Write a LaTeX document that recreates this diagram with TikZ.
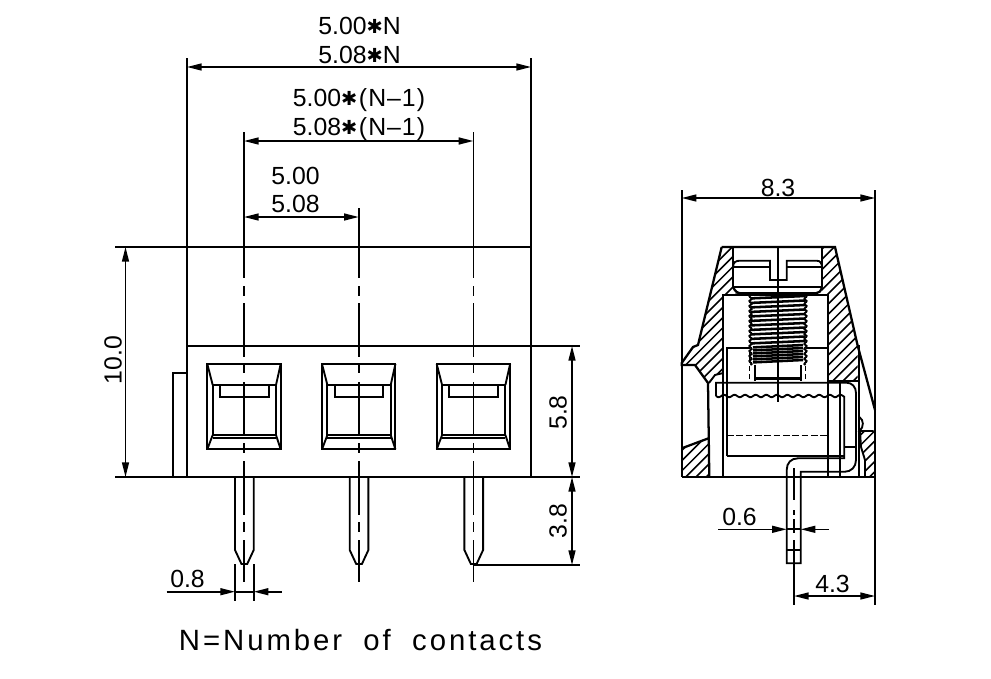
\documentclass[tikz,border=0pt]{standalone}
\usepackage{fontspec}
\setmainfont{Liberation Sans}
\newfontfamily\symfont{DejaVu Sans}
\newfontfamily\spacedfont[LetterSpace=10]{Liberation Sans}
\usetikzlibrary{arrows.meta}
\newcommand{\starglyph}{{\symfont\fontsize{14.5}{16}\selectfont\raisebox{0.5pt}{✱}}}
\newcommand{\nminus}{\kern1.2pt(\kern1pt N\kern0.6pt–\kern0.6pt 1\kern1pt)}
\tikzset{
  obj/.style={line width=1.7pt,line join=miter},
  med/.style={line width=1.4pt},
  extl/.style={line width=1.3pt},
  centre/.style={line width=1.3pt},
  dimline/.style={line width=1.2pt,{Triangle[length=11pt,width=5.2pt]}-{Triangle[length=11pt,width=5.2pt]}},
  dimin/.style={line width=1.2pt,-{Triangle[length=11pt,width=5.2pt]}},
  hatchl/.style={line width=1.15pt},
  lbl/.style={inner sep=0pt,font=\fontsize{18.6}{20}\selectfont},
  lblr/.style={lbl,rotate=90},
}
\newcommand{\hatchfill}[3]{% polygon, from, to
  \begin{scope}
    \clip #1;
    \foreach \hc in {#2,...,#3}{
      \pgfmathsetmacro{\cc}{\hc*10.2}
      \draw[hatchl] (\cc-240,240) -- (\cc-500,500);
    }
  \end{scope}
}
\begin{document}
\begin{tikzpicture}[x=0.75pt,y=-0.75pt]
\useasboundingbox (0,0) rectangle (991,678);
% ---------- FRONT VIEW ----------
\draw[obj] (187,477) -- (187,346) -- (580,346);
\draw[obj] (115,477) -- (580,477);
\draw[extl] (115,247) -- (531,247);
\draw[obj] (531,346) -- (531,477);
\draw[obj] (172.7,477) -- (172.7,373) -- (187,373);
\draw[extl] (187,58) -- (187,346);
\draw[extl] (531,58) -- (531,346);
% cavities, pins, centre lines
\foreach \cx/\ctop in {244/132,358.7/208,473.4/132}{
  \begin{scope}[shift={(\cx,0)}]
    \draw[med] (-36.7,364) rectangle (36.7,449.3);
    \draw[med] (-31.3,385) rectangle (32,435);
    \draw[med] (-31.3,438.3) -- (32,438.3);
    \draw[med] (-24,385) -- (-24,396.7) -- (24.7,396.7) -- (24.7,385);
    \draw[med] (-36.7,364) -- (-31.3,385) (36.7,364) -- (32,385);
    \draw[med] (-36.7,449.3) -- (-31.3,435) (36.7,449.3) -- (32,435);
    \draw[med] (-9,477) -- (-9,550) -- (-2.5,564) -- (3.2,564) -- (9.7,550) -- (9.7,477);
    \draw[centre] (0,\ctop) -- (0,278) (0,286) -- (0,296) (0,303) -- (0,357)
      (0,365) -- (0,373) (0,382) -- (0,435) (0,443) -- (0,453)
      (0,461) -- (0,515) (0,522) -- (0,532) (0,540) -- (0,582);
  \end{scope}
}
% dims front
\coordinate (aL) at (187,67); \coordinate (aR) at (531,67);
\coordinate (bL) at (244,141); \coordinate (bR) at (473.4,141);
\coordinate (cL) at (244,217); \coordinate (cR) at (358.7,217);
\draw[dimline] (aL) -- (aR);
\draw[dimline] (bL) -- (bR);
\draw[dimline] (cL) -- (cR);
\coordinate (dT) at (125.5,247); \coordinate (dB) at (125.5,477);
\draw[dimline] (dT) -- (dB);
\coordinate (eT) at (572,346); \coordinate (eB) at (572,477); \coordinate (fB) at (572,565);
\draw[dimline] (eT) -- (eB);
\draw[dimline] (eB) -- (fB);
\draw[extl] (473.4,565) -- (580,565);
\draw[extl] (235,564) -- (235,600.7) (253.7,564) -- (253.7,600.7);
\coordinate (gA) at (166.7,591.7); \coordinate (gB) at (235,591.7);
\coordinate (gC) at (281.7,591.7); \coordinate (gD) at (253.7,591.7);
\draw[dimin] (gA) -- (gB);
\draw[dimin] (gC) -- (gD);
\draw[extl] (gB) -- (gD);
% ---------- SIDE VIEW: hatch ----------
\hatchfill{(721.7,247) -- (733,247) -- (733,287) -- (740,293.3) -- (723.3,295) -- (723.3,373) -- (715,375) -- (708,383) -- (695,365) -- (681.7,365) -- (681.7,363) -- (693,347) -- (698,345) -- cycle}{95}{150}
\hatchfill{(822,247) -- (835,247) -- (857.5,345) -- (857.5,381) -- (828,381) -- (828,295) -- (822,293) -- cycle}{95}{150}
\hatchfill{(860,431) -- (875,431) -- (875,477) -- (865,477) -- (865,460) -- (861,447) -- cycle}{95}{150}
\hatchfill{(681.7,448.3) -- (709.3,438) -- (709.3,477) -- (681.7,477) -- cycle}{95}{150}
% outlines
\draw[obj] (721.7,247) -- (835,247) -- (857.5,345) -- (875,410);
\draw[obj] (721.7,247) -- (698,345) -- (693,347) -- (681.7,363) -- (681.7,365) -- (695,365) -- (708,383) -- (709.3,477);
\draw[med] (733,247) -- (733,287) (822,247) -- (822,287);
\draw[med] (723.3,373) -- (715,375) -- (709,383);
\draw[obj] (681.7,448.3) -- (709.3,438);
\draw[obj] (681.7,477) -- (875,477);
\draw[med] (828,381) -- (858,381) (859.3,345) -- (859.3,477);
\draw[med] (859.3,417) .. controls (864,420) and (864,427) .. (859.5,431) -- (873.5,431);
\draw[med] (860,431) -- (861,447) -- (865,460) -- (865,477);
% screw head
\draw[med] (733,287) -- (733,267.3) -- (770,267.3) (786.7,267.3) -- (822,267.3) -- (822,287);
\draw[med] (733,267.3) .. controls (733,262) and (736,260.7) .. (740,260.7) -- (770,260.7) -- (770,280) -- (786.7,280) -- (786.7,260.7) -- (816.7,260.7) .. controls (820,260.7) and (822,263) .. (822,267.3);
\draw[obj] (733,286.7) -- (822,286.7);
\draw[obj] (733,287) .. controls (735,291) and (737,293.3) .. (741,293.3) -- (816,293.3) .. controls (819,293.3) and (821,291) .. (822,287);
% inner chamber
\draw[obj] (723.3,477) -- (723.3,295) -- (828.3,295) -- (828.3,477);
\draw[med] (727,456) -- (727,348.3) -- (750,348.3) (806,348.3) -- (828.3,348.3);
% thread
\foreach \y in {297,301.5,...,342}{
  \draw[line width=1.9pt] (751,\y+1.4) -- (805,\y-1);
}
\foreach \y in {346,349,...,363}{
  \draw[line width=1.9pt] (753,\y+1.4) -- (803,\y-1);
}
\draw[med] plot[domain=295:365,samples=71] ({750.5-1.2*sin((\x-295)*72)},\x);
\draw[med] plot[domain=295:365,samples=71] ({805.5+1.2*sin((\x-295)*72)},\x);
\draw[med] (755,365) -- (755,381) (801,365) -- (801,381);
\draw[obj] (755,378.5) -- (801,378.5);
\draw[line width=0.9pt,dash pattern=on 4pt off 2pt] (749.5,350) -- (749.5,381) (805.5,350) -- (805.5,381);
% contact and strap
\draw[med] (716,396) -- (716,382.7) -- (846.7,382.7) .. controls (852,382.7) and (856,387) .. (856,393) -- (856,460) .. controls (856,467) and (851,471.7) .. (845,471.7) -- (800.7,471.7) -- (800.7,563.3) -- (786.7,563.3) -- (786.7,470) .. controls (786.7,463) and (791,458.3) .. (798,458.3) -- (844.3,458.3) -- (844.3,396);
\draw[med] plot[domain=716:844.3,samples=130] (\x,{396+1.2*sin((\x-716)*34)});
\draw[med] (727,456) -- (844.3,456);
\draw[med] (844.3,446.7) -- (856,446.7);
\draw[med] (840,382.7) -- (840,477);
\draw[line width=1.1pt,dash pattern=on 5pt off 2pt] (727,435.3) -- (828.3,435.3);
\draw[med] (786.7,550) -- (800.7,550);
\draw[centre] (778.3,248) -- (778.3,402);
\draw[centre] (794,468) -- (794,500) (794,510) -- (794,515) (794,519) -- (794,533) (794,540) -- (794,605);
% side dims
\draw[extl] (681.7,190) -- (681.7,477) (875,190) -- (875,605);
\coordinate (hL) at (681.7,198); \coordinate (hR) at (875,198);
\draw[dimline] (hL) -- (hR);
\coordinate (iA) at (718,529.3); \coordinate (iB) at (786.7,529.3);
\coordinate (iC) at (829,529.3); \coordinate (iD) at (800.7,529.3);
\draw[dimin] (iA) -- (iB);
\draw[dimin] (iC) -- (iD);
\draw[extl] (iB) -- (iD);
\coordinate (jL) at (794,596); \coordinate (jR) at (875,596);
\draw[dimline] (jL) -- (jR);
% ---------- LABELS ----------
\node[lbl] (t1) at (359.5,26) {5.00\starglyph N};
\node[lbl] (t2) at (359.5,55) {5.08\starglyph N};
\node[lbl] (t3) at (359,100) {5.00\starglyph\nminus};
\node[lbl] (t4) at (359,129) {5.08\starglyph\nminus};
\node[lbl] (t5) at (295.5,176) {5.00};
\node[lbl] (t6) at (295.5,204) {5.08};
\node[lblr] (t7) at (113,360) {10.0};
\node[lblr] (t8) at (558,412.5) {5.8};
\node[lblr] (t9) at (558,521) {3.8};
\node[lbl] (t10) at (778,188) {8.3};
\node[lbl] (t11) at (187.5,579) {0.8};
\node[lbl] (t12) at (739.5,516.5) {0.6};
\node[lbl] (t13) at (832.5,584) {4.3};
\node[inner sep=0pt,font=\spacedfont\fontsize{22}{24}\selectfont] (t14) at (360.5,640) {N=Number\hspace{0.35em} of\hspace{0.35em} contacts};
\end{tikzpicture}
\end{document}
